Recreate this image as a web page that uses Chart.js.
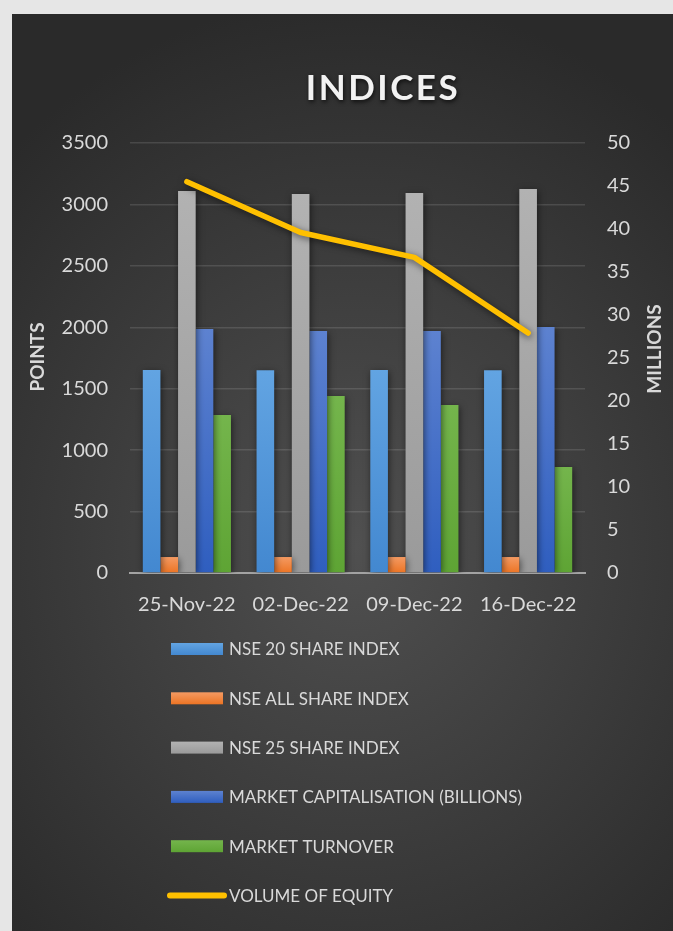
<!DOCTYPE html>
<html>
<head>
<meta charset="utf-8">
<script src="https://cdn.jsdelivr.net/npm/chart.js@4"></script>
<style>
html,body{margin:0;padding:0;background:#e6e6e6;width:673px;height:931px;overflow:hidden;}
#panel{position:absolute;left:12px;top:14px;width:661px;height:917px;
background:radial-gradient(ellipse 75% 60% at 52% 58%, #505050 0%, #3f3f3f 45%, #2a2a2a 100%);}
#wrap{position:absolute;left:0;top:0;width:673px;height:931px;}
</style>
</head>
<body>
<div id="panel"></div>
<div id="wrap"><canvas id="c" width="673" height="931"></canvas></div>
<script>
const categories = ['25-Nov-22','02-Dec-22','09-Dec-22','16-Dec-22'];
const nse20 = [1652, 1651, 1652, 1650];
const nseAll = [130, 130, 130, 130];
const nse25 = [3109, 3085, 3093, 3126];
const marketCap = [1986, 1970, 1970, 2002];
const turnover = [1286, 1441, 1367, 863];
const volumeEquity = [45.5, 39.6, 36.7, 27.9];
const leftTicks = {min:0, max:3500, step:500};
const rightTicks = {min:0, max:50, step:5};
const seriesNames = ['NSE 20 SHARE INDEX','NSE ALL SHARE INDEX','NSE 25 SHARE INDEX','MARKET CAPITALISATION (BILLIONS)','MARKET TURNOVER','VOLUME OF EQUITY'];

const FONT = "Lato, 'Open Sans', sans-serif";
const colors = [
  ['#62a4e2','#4388d0'],
  ['#f49a62','#ec7424'],
  ['#b2b2b2','#9a9a9a'],
  ['#5d82d0','#2f5ebf'],
  ['#74b54c','#5ea434']
];
function barGrad(i){
  return (c)=>{
    const ch=c.chart, a=ch.chartArea;
    if(!a || c.type!=='data') return colors[i][1];
    const y0 = ch.scales.y.getPixelForValue(c.raw);
    if(!isFinite(y0) || a.bottom-y0 < 1) return colors[i][1];
    const g = ch.ctx.createLinearGradient(0,y0,0,a.bottom);
    g.addColorStop(0,colors[i][0]); g.addColorStop(1,colors[i][1]);
    return g;
  };
}

const decor = {
  id:'decor',
  beforeDatasetDraw(chart){ const ctx=chart.ctx; ctx.save(); ctx.shadowColor='rgba(0,0,0,0.55)'; ctx.shadowBlur=7; ctx.shadowOffsetX=1; ctx.shadowOffsetY=2; },
  afterDatasetDraw(chart){ chart.ctx.restore(); },
  afterDraw(chart){
    const ctx=chart.ctx;
    ctx.save();
    ctx.font = "bold 35px "+FONT;
    ctx.fillStyle='#f2f2f2';
    ctx.textAlign='center'; ctx.textBaseline='middle';
    ctx.shadowColor='rgba(0,0,0,0.7)'; ctx.shadowBlur=4; ctx.shadowOffsetX=1; ctx.shadowOffsetY=2;
    if('letterSpacing' in ctx) ctx.letterSpacing='2.5px';
    ctx.fillText('INDICES',383,89);
    ctx.restore();
    ctx.save();
    ctx.font="bold 19px "+FONT; ctx.fillStyle='#d9d9d9'; ctx.textAlign='center'; ctx.textBaseline='middle';
    ctx.translate(38,357); ctx.rotate(-Math.PI/2); ctx.fillText('POINTS',0,0);
    ctx.restore();
    ctx.save();
    ctx.font="bold 19px "+FONT; ctx.fillStyle='#d9d9d9'; ctx.textAlign='center'; ctx.textBaseline='middle';
    ctx.translate(655,349); ctx.rotate(-Math.PI/2); ctx.fillText('MILLIONS',0,0);
    ctx.restore();
    ctx.save();
    ctx.font="17px "+FONT; ctx.textBaseline='middle'; ctx.textAlign='left';
    for(let i=0;i<seriesNames.length;i++){
      const y = 649 + i*49.3;
      if(i<5){
        const g=ctx.createLinearGradient(0,y-6,0,y+6);
        g.addColorStop(0,colors[i][0]); g.addColorStop(1,colors[i][1]);
        ctx.fillStyle=g; ctx.fillRect(171,y-6,52,12);
      } else {
        ctx.strokeStyle='#ffc000'; ctx.lineWidth=6; ctx.lineCap='round';
        ctx.beginPath(); ctx.moveTo(170,y); ctx.lineTo(224,y); ctx.stroke();
      }
      ctx.fillStyle='#d9d9d9';
      ctx.fillText(seriesNames[i],229,y+1);
    }
    ctx.restore();
  }
};

const barNames = seriesNames.slice(0,5);
const barData = [nse20,nseAll,nse25,marketCap,turnover];
const datasets = barData.map((d,i)=>({
  type:'bar', label:barNames[i], data:d, yAxisID:'y',
  backgroundColor:barGrad(i), borderWidth:0,
  categoryPercentage:0.775, barPercentage:1.0, order:1
}));
datasets.push({
  type:'line', label:seriesNames[5], data:volumeEquity, yAxisID:'y2',
  borderColor:'#ffc000', backgroundColor:'#ffc000', borderWidth:5.5,
  borderCapStyle:'round', borderJoinStyle:'round', pointRadius:0, tension:0, order:0
});

new Chart(document.getElementById('c'),{
  data:{labels:categories, datasets},
  options:{
    responsive:false, animation:false,
    layout:{padding:{top:143,left:0,right:0,bottom:0}},
    plugins:{legend:{display:false}, title:{display:false}, tooltip:{enabled:false}},
    scales:{
      x:{
        grid:{display:false, drawTicks:false},
        border:{display:true, color:'#a3a3a3', width:2},
        ticks:{color:'#d9d9d9', font:{family:FONT,size:20}, padding:20, maxRotation:0},
        afterFit:(s)=>{ s.height = 358; }
      },
      y:{
        position:'left', min:leftTicks.min, max:leftTicks.max,
        ticks:{stepSize:leftTicks.step, color:'#d9d9d9', font:{family:FONT,size:20}, padding:22, callback:(v)=>String(v)},
        grid:{color:'rgba(255,255,255,0.12)', lineWidth:1.5, drawTicks:false},
        border:{display:false},
        afterFit:(s)=>{ s.width = 130; }
      },
      y2:{
        position:'right', min:rightTicks.min, max:rightTicks.max,
        ticks:{stepSize:rightTicks.step, color:'#d9d9d9', font:{family:FONT,size:20}, padding:22, callback:(v)=>String(v)},
        grid:{display:false, drawTicks:false},
        border:{display:false},
        afterFit:(s)=>{ s.width = 88; }
      }
    }
  },
  plugins:[decor]
});
</script>
</body>
</html>
